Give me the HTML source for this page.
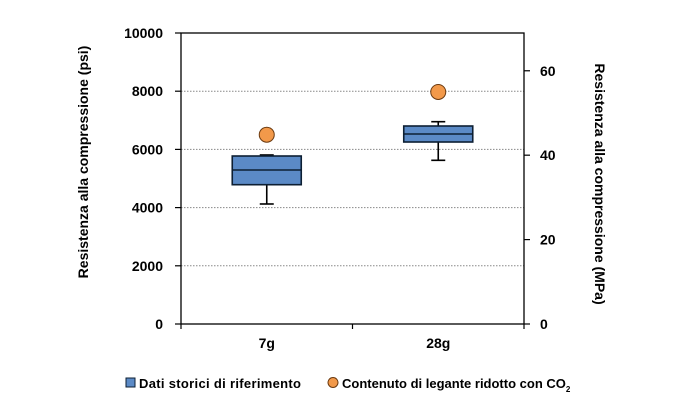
<!DOCTYPE html>
<html><head><meta charset="utf-8"><style>
html,body{margin:0;padding:0;background:#fff;}
svg text{font-family:"Liberation Sans",Arial,sans-serif;}
</style></head><body>
<svg id="chart" width="700" height="402" viewBox="0 0 700 402" xmlns="http://www.w3.org/2000/svg"></svg>
<script>
const categories = ["7g", "28g"];
const boxMin = [4124, 5625];
const boxQ1 = [4787, 6254];
const boxMedian = [5292, 6529];
const boxQ3 = [5773, 6804];
const boxMax = [5808, 6952];
const co2Values = [6505, 7973];
const psiTicks = [0, 2000, 4000, 6000, 8000, 10000];
const mpaTicks = [0, 20, 40, 60];

const NS = "http://www.w3.org/2000/svg";
const svg = document.getElementById("chart");
const L = 181, R = 524, T = 33, B = 324;
const psiMax = 10000, mpaMax = 68.95;
const y = v => B - (v / psiMax) * (B - T);
const y2 = v => B - (v / mpaMax) * (B - T);
const band = (R - L) / categories.length;
const xc = i => L + band * (i + 0.5);

function mk(tag, attrs, text) {
  const e = document.createElementNS(NS, tag);
  for (const k in attrs) e.setAttribute(k, attrs[k]);
  if (text !== undefined) e.textContent = text;
  svg.appendChild(e);
  return e;
}

// gridlines
psiTicks.forEach(t => {
  if (t === 0 || t === psiMax) return;
  const g = mk("line", {x1: L, x2: R, y1: y(t), y2: y(t), stroke: "#888", "stroke-width": 1, "stroke-dasharray": "1.5,1.5"});
  
  
});

// plot frame
const frame = mk("rect", {x: L, y: T, width: R - L, height: B - T, fill: "none", stroke: "#000", "stroke-width": 1.3});



// left ticks/labels
psiTicks.forEach(t => {
  mk("line", {x1: L - 6, x2: L, y1: y(t), y2: y(t), stroke: "#000", "stroke-width": 1.2});
  const lb = mk("text", {x: 163, y: y(t) + 5, "text-anchor": "end", "font-size": 14, "font-weight": "bold"}, t);
  
  
});
// right ticks/labels
mpaTicks.forEach(t => {
  mk("line", {x1: R, x2: R + 6, y1: y2(t), y2: y2(t), stroke: "#000", "stroke-width": 1.2});
  const lb = mk("text", {x: 540, y: y2(t) + 5, "font-size": 14, "font-weight": "bold"}, t);
  
  
});
// x ticks
for (let i = 0; i <= categories.length; i++) {
  mk("line", {x1: L + band * i, x2: L + band * i, y1: B, y2: B + 5, stroke: "#000", "stroke-width": 1.2});
}

// boxes
categories.forEach((c, i) => {
  const cx = xc(i), hw = 34.5, cap = 7;
  const w = mk("line", {x1: cx, x2: cx, y1: y(boxMax[i]), y2: y(boxMin[i]), stroke: "#000", "stroke-width": 1.6});
  
  
  mk("line", {x1: cx - cap, x2: cx + cap, y1: y(boxMax[i]), y2: y(boxMax[i]), stroke: "#000", "stroke-width": 1.6});
  mk("line", {x1: cx - cap, x2: cx + cap, y1: y(boxMin[i]), y2: y(boxMin[i]), stroke: "#000", "stroke-width": 1.6});
  const b = mk("rect", {x: cx - hw, y: y(boxQ3[i]), width: hw * 2, height: y(boxQ1[i]) - y(boxQ3[i]), fill: "#5b8ac6", stroke: "#0d1f33", "stroke-width": 1.6});
  
  
  mk("line", {x1: cx - hw, x2: cx + hw, y1: y(boxMedian[i]), y2: y(boxMedian[i]), stroke: "#0d1f33", "stroke-width": 1.6});
  const p = mk("circle", {cx: cx, cy: y(co2Values[i]), r: 7.5, fill: "#f2994a", stroke: "#6b3a10", "stroke-width": 1});
  
  
  const lb = mk("text", {x: cx, y: 348, "text-anchor": "middle", "font-size": 14, "font-weight": "bold"}, c);
  
  
});

// axis titles
const t1 = mk("text", {x: 0, y: 0, transform: "translate(88,162) rotate(-90)", "text-anchor": "middle", "font-size": 14, "font-weight": "bold"}, "Resistenza alla compressione (psi)");


const t2 = mk("text", {x: 0, y: 0, transform: "translate(595,184) rotate(90)", "text-anchor": "middle", "font-size": 14, "font-weight": "bold"}, "Resistenza alla compressione (MPa)");



// legend
const ls = mk("rect", {x: 126, y: 378, width: 9, height: 9, fill: "#5b8ac6", stroke: "#0d1f33", "stroke-width": 1});


const lt1 = mk("text", {x: 139, y: 388, "font-size": 13, "font-weight": "bold", textLength: 162}, "Dati storici di riferimento");


const lc = mk("circle", {cx: 333, cy: 382.5, r: 5, fill: "#f2994a", stroke: "#6b3a10", "stroke-width": 1});


const lt2 = mk("text", {x: 342, y: 388, "font-size": 13, "font-weight": "bold"});


lt2.appendChild(document.createTextNode("Contenuto di legante ridotto con CO"));
const sub = document.createElementNS(NS, "tspan");
sub.setAttribute("font-size", "8");
sub.setAttribute("dy", "4");
sub.textContent = "2";
lt2.appendChild(sub);
</script>
</body></html>
